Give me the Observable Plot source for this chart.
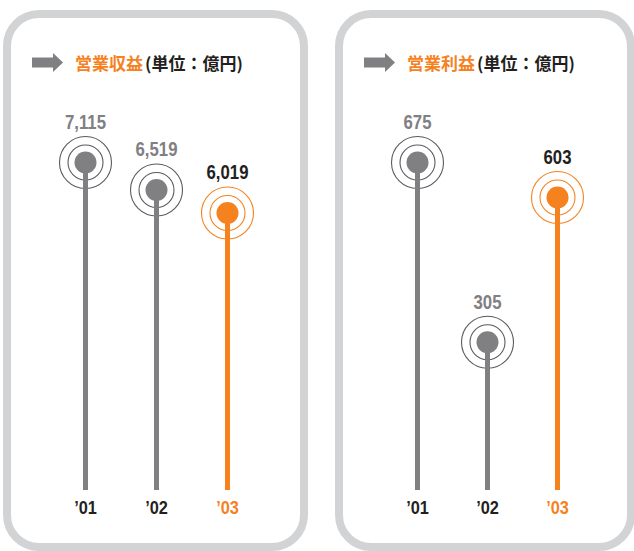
<!DOCTYPE html>
<html><head><meta charset="utf-8">
<script src="https://cdn.jsdelivr.net/npm/d3@7"></script>
<script src="https://cdn.jsdelivr.net/npm/@observablehq/plot@0.6"></script>
<style>
html,body{margin:0;padding:0;background:#fff;}
#wrap{position:relative;width:634px;height:551px;overflow:hidden;font-family:"Noto Sans CJK JP","Noto Sans",sans-serif;}
.panel{position:absolute;top:10px;height:541px;box-sizing:border-box;border:8px solid #d2d3d5;border-radius:36px;background:#fff;}
.title{position:absolute;top:50px;font-size:17px;font-weight:700;color:#231f20;white-space:nowrap;line-height:26px;font-family:"Noto Sans CJK JP",sans-serif;}
.title .hl{color:#f5821f;margin-right:2px;}
.arrow{position:absolute;top:53px;}
.plot{position:absolute;top:0;}
</style></head>
<body><div id="wrap"></div>
<script>
const years = ["'01", "'02", "'03"];
const yearLabels = ["’01", "’02", "’03"];
const revenue = [7115, 6519, 6019];
const profit = [675, 305, 603];
const revenueLabels = ["7,115", "6,519", "6,019"];
const profitLabels = ["675", "305", "603"];
const titles = [["営業収益", "(単位：億円)"], ["営業利益", "(単位：億円)"]];

const GRAY = "#808083", ORANGE = "#f5821f", DARK = "#231f20", RING = "#5a5b5e";
const FONT = "'Liberation Sans',Arial,sans-serif";
const wrap = document.getElementById("wrap");

function panel(left, width, arrowX, titleX, title, values, labels, plotLeft, mL, mR) {
  const p = document.createElement("div");
  p.className = "panel"; p.style.left = left + "px"; p.style.width = width + "px";
  wrap.appendChild(p);
  const a = document.createElementNS("http://www.w3.org/2000/svg", "svg");
  a.setAttribute("class", "arrow"); a.setAttribute("width", 32); a.setAttribute("height", 20);
  a.style.left = arrowX + "px";
  a.innerHTML = '<path d="M0,4.5 H21 V0 L31,9.5 L21,19 V14.5 H0 Z" fill="#808083"/>';
  wrap.appendChild(a);
  const t = document.createElement("div");
  t.className = "title"; t.style.left = titleX + "px";
  t.innerHTML = '<span class="hl">' + title[0] + '</span><span>' + title[1] + '</span>';
  wrap.appendChild(t);

  const data = years.map((y, i) => ({year: y, label: yearLabels[i], v: values[i], txt: labels[i], last: i === years.length - 1}));
  const fillOf = d => d.last ? ORANGE : GRAY;
  const chart = Plot.plot({
    width: 317, height: 551,
    marginTop: 162, marginBottom: 61, marginLeft: mL, marginRight: mR,
    x: {type: "point", domain: years, padding: 0, axis: null},
    y: {domain: [0, d3.max(values)], axis: null},
    style: {background: "transparent", overflow: "visible"},
    marks: [
      Plot.dot(data, {x: "year", y: "v", r: 26, stroke: d => d.last ? ORANGE : RING, strokeWidth: 1.1, fill: "white"}),
      Plot.dot(data, {x: "year", y: "v", r: 17.5, stroke: d => d.last ? ORANGE : RING, strokeWidth: 1.1, fill: "none"}),
      Plot.ruleX(data, {x: "year", y1: 0, y2: "v", stroke: fillOf, strokeWidth: 5}),
      Plot.dot(data, {x: "year", y: "v", r: 11, fill: fillOf, stroke: "none"}),
      Plot.text(data, {x: "year", y: "v", text: "txt", dy: -40, fill: d => d.last ? DARK : GRAY,
        fontSize: 19.5, fontWeight: "bold", fontFamily: FONT, className: "vals"}),
      Plot.text(data, {x: "year", y: () => 0, text: "label", dy: 17, fill: d => d.last ? ORANGE : DARK,
        fontSize: 19, fontWeight: "bold", fontFamily: FONT, className: "yrs"})
    ]
  });
  chart.classList.add("plot");
  chart.style.left = plotLeft + "px";
  chart.querySelectorAll(".vals text, .yrs text").forEach(el => {
    const tr = el.getAttribute("transform");
    if (tr) el.setAttribute("transform", tr + " scale(0.86,1)");
  });
  wrap.appendChild(chart);
}

panel(3, 305, 32, 75, titles[0], revenue, revenueLabels, 0, 85, 317 - 227);
panel(335, 300, 364, 407, titles[1], profit, profitLabels, 317, 100, 317 - 240);
</script></body></html>
